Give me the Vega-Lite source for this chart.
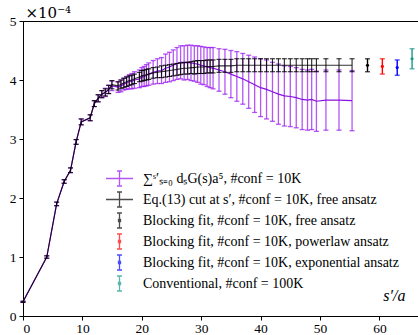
{
  "$schema": "https://vega.github.io/schema/vega-lite/v6.json",
  "width": 395,
  "height": 295,
  "autosize": "none",
  "padding": {"left": 23, "top": 21, "right": 0, "bottom": 19},
  "background": "white",
  "config": {
    "view": {"stroke": "black", "strokeWidth": 1},
    "axis": {
      "grid": false, "domainColor": "black", "tickColor": "black", "tickSize": 4,
      "labelFont": "Liberation Serif", "labelFontSize": 13.5, "labelColor": "black",
      "titleFont": "Liberation Serif", "titleColor": "black", "titleFontWeight": "normal"
    },
    "legend": {"labelFont": "Liberation Serif", "labelFontSize": 14, "labelColor": "black", "labelLimit": 400}
  },
  "datasets": {
    "sum": [
      {"x":0,"y":0.24,"e":0.01},{"x":4,"y":1.0,"e":0.02},{"x":5.66,"y":1.9,"e":0.03},{"x":6.93,"y":2.28,"e":0.03},
      {"x":8,"y":2.47,"e":0.04},{"x":8.94,"y":2.95,"e":0.04},{"x":9.8,"y":3.29,"e":0.05},{"x":11.31,"y":3.36,"e":0.05},
      {"x":12,"y":3.6,"e":0.05},{"x":12.65,"y":3.69,"e":0.06},{"x":13.27,"y":3.76,"e":0.06},{"x":13.86,"y":3.79,"e":0.07},
      {"x":14.42,"y":3.84,"e":0.07},{"x":14.97,"y":3.9,"e":0.08},{"x":16,"y":3.88,"e":0.09},{"x":16.49,"y":3.9,"e":0.1},
      {"x":16.97,"y":3.93,"e":0.1},{"x":17.44,"y":3.95,"e":0.11},{"x":17.89,"y":3.97,"e":0.12},{"x":18.33,"y":3.98,"e":0.13},
      {"x":18.76,"y":4.0,"e":0.14},{"x":19.6,"y":4.02,"e":0.15},{"x":20,"y":4.05,"e":0.16},{"x":20.4,"y":4.06,"e":0.17},
      {"x":20.78,"y":4.08,"e":0.18},{"x":21.17,"y":4.1,"e":0.19},{"x":21.91,"y":4.13,"e":0.2},{"x":22.63,"y":4.15,"e":0.21},
      {"x":23.32,"y":4.16,"e":0.22},{"x":24,"y":4.2,"e":0.24},{"x":24.66,"y":4.22,"e":0.25},{"x":25.3,"y":4.25,"e":0.26},
      {"x":25.92,"y":4.28,"e":0.27},{"x":26.53,"y":4.3,"e":0.28},{"x":27.13,"y":4.29,"e":0.29},{"x":27.71,"y":4.3,"e":0.29},
      {"x":28.28,"y":4.29,"e":0.3},{"x":28.84,"y":4.28,"e":0.3},{"x":29.39,"y":4.27,"e":0.31},{"x":29.93,"y":4.25,"e":0.32},
      {"x":30.46,"y":4.24,"e":0.32},{"x":31,"y":4.22,"e":0.33},{"x":31.5,"y":4.21,"e":0.34},{"x":32,"y":4.2,"e":0.35},
      {"x":33,"y":4.17,"e":0.36},{"x":34,"y":4.14,"e":0.38},{"x":35,"y":4.1,"e":0.4},{"x":36,"y":4.06,"e":0.42},
      {"x":37,"y":4.02,"e":0.43},{"x":38,"y":3.97,"e":0.45},{"x":39,"y":3.92,"e":0.47},{"x":40,"y":3.87,"e":0.49},
      {"x":41,"y":3.84,"e":0.5},{"x":42,"y":3.8,"e":0.5},{"x":43,"y":3.76,"e":0.51},{"x":44,"y":3.73,"e":0.51},
      {"x":45,"y":3.72,"e":0.51},{"x":46,"y":3.7,"e":0.51},{"x":47,"y":3.67,"e":0.51},{"x":47.9,"y":3.66,"e":0.51},
      {"x":48.6,"y":3.67,"e":0.51},{"x":49.4,"y":3.64,"e":0.51},{"x":51,"y":3.66,"e":0.51},{"x":53.2,"y":3.66,"e":0.51},
      {"x":55.4,"y":3.65,"e":0.51}
    ],
    "eq13": [
      {"x":0,"y":0.24,"e":0.01},{"x":4,"y":1.0,"e":0.02},{"x":5.66,"y":1.9,"e":0.03},{"x":6.93,"y":2.28,"e":0.03},
      {"x":8,"y":2.47,"e":0.04},{"x":8.94,"y":2.95,"e":0.04},{"x":9.8,"y":3.29,"e":0.05},{"x":11.31,"y":3.36,"e":0.05},
      {"x":12,"y":3.6,"e":0.05},{"x":12.65,"y":3.69,"e":0.06},{"x":13.27,"y":3.76,"e":0.06},{"x":13.86,"y":3.79,"e":0.06},
      {"x":14.42,"y":3.84,"e":0.07},{"x":14.97,"y":3.92,"e":0.07},{"x":16,"y":3.9,"e":0.07},{"x":16.49,"y":3.93,"e":0.07},
      {"x":16.97,"y":3.95,"e":0.08},{"x":17.44,"y":3.97,"e":0.08},{"x":17.89,"y":3.99,"e":0.08},{"x":18.33,"y":4.0,"e":0.08},
      {"x":18.76,"y":4.02,"e":0.08},{"x":19.6,"y":4.05,"e":0.08},{"x":20,"y":4.07,"e":0.09},{"x":20.4,"y":4.08,"e":0.09},
      {"x":20.78,"y":4.09,"e":0.09},{"x":21.17,"y":4.1,"e":0.09},{"x":21.91,"y":4.12,"e":0.09},{"x":22.63,"y":4.13,"e":0.09},
      {"x":23.32,"y":4.14,"e":0.1},{"x":24,"y":4.15,"e":0.1},{"x":24.66,"y":4.16,"e":0.1},{"x":25.3,"y":4.17,"e":0.1},
      {"x":25.92,"y":4.18,"e":0.1},{"x":26.53,"y":4.19,"e":0.1},{"x":27.13,"y":4.2,"e":0.1},{"x":27.71,"y":4.2,"e":0.1},
      {"x":28.28,"y":4.21,"e":0.1},{"x":28.84,"y":4.21,"e":0.11},{"x":29.39,"y":4.22,"e":0.11},{"x":29.93,"y":4.22,"e":0.11},
      {"x":30.46,"y":4.22,"e":0.11},{"x":31,"y":4.23,"e":0.11},{"x":31.5,"y":4.23,"e":0.11},{"x":32,"y":4.23,"e":0.11},
      {"x":33,"y":4.24,"e":0.11},{"x":34,"y":4.24,"e":0.11},{"x":35,"y":4.24,"e":0.11},{"x":36,"y":4.25,"e":0.11},
      {"x":37,"y":4.25,"e":0.11},{"x":38,"y":4.25,"e":0.11},{"x":39,"y":4.25,"e":0.11},{"x":40,"y":4.25,"e":0.11},
      {"x":41,"y":4.25,"e":0.11},{"x":42,"y":4.25,"e":0.11},{"x":43,"y":4.25,"e":0.11},{"x":44,"y":4.25,"e":0.11},
      {"x":45,"y":4.25,"e":0.11},{"x":46,"y":4.25,"e":0.11},{"x":47,"y":4.25,"e":0.11},{"x":47.9,"y":4.25,"e":0.11},
      {"x":48.6,"y":4.25,"e":0.11},{"x":49.4,"y":4.25,"e":0.11},{"x":51,"y":4.25,"e":0.11},{"x":53.2,"y":4.25,"e":0.11},
      {"x":55.4,"y":4.25,"e":0.11}
    ],
    "single": [
      {"series":"Blocking fit, #conf = 10K, free ansatz","x":58.0,"y":4.25,"e":0.11},
      {"series":"Blocking fit, #conf = 10K, powerlaw ansatz","x":60.5,"y":4.23,"e":0.13},
      {"series":"Blocking fit, #conf = 10K, exponential ansatz","x":63.0,"y":4.21,"e":0.13},
      {"series":"Conventional, #conf = 100K","x":65.5,"y":4.36,"e":0.17}
    ]
  },
  "encoding": {
    "x": {"field": "x", "type": "quantitative",
      "scale": {"domain": [0, 66.5], "nice": false, "zero": false},
      "axis": {"values": [0,10,20,30,40,50,60], "title": "s′/a", "titleFontStyle": "italic", "titleFontSize": 16,
        "titleAlign": "right", "titleBaseline": "middle", "titleX": 382, "titleY": -21, "labelPadding": 1}},
    "y": {"field": "y", "type": "quantitative",
      "scale": {"domain": [0, 5], "nice": false},
      "axis": {"values": [0,1,2,3,4,5], "title": "×10⁻⁴", "titleAngle": 0, "titleFontSize": 15,
        "titleFont": "DejaVu Serif", "titleAlign": "left", "titleBaseline": "alphabetic", "titleX": 2, "titleY": -4, "labelPadding": 3}}
  },
  "layer": [
    {
      "data": {"name": "sum"},
      "mark": {"type": "errorbar", "color": "#9410f0", "opacity": 0.7, "thickness": 1.3, "ticks": {"size": 5, "thickness": 1.3}},
      "encoding": {"yError": {"field": "e"}}
    },
    {
      "data": {"name": "sum"},
      "mark": {"type": "line", "color": "#8a10e0", "strokeWidth": 1.2},
      "encoding": {}
    },
    {
      "data": {"name": "eq13"},
      "mark": {"type": "errorbar", "color": "black", "opacity": 0.85, "thickness": 1.1, "ticks": {"size": 5, "thickness": 1.1}},
      "encoding": {"yError": {"field": "e"}}
    },
    {
      "data": {"name": "eq13"},
      "mark": {"type": "line", "color": "black", "opacity": 0.8, "strokeWidth": 1.1},
      "encoding": {}
    },
    {
      "data": {"name": "single"},
      "mark": {"type": "errorbar", "thickness": 1.4, "ticks": {"size": 5, "thickness": 1.4}},
      "encoding": {"yError": {"field": "e"},
        "color": {"field": "series", "type": "nominal"}}
    },
    {
      "data": {"name": "single"},
      "mark": {"type": "point", "filled": true, "size": 10, "opacity": 1},
      "encoding": {"color": {"field": "series", "type": "nominal"}}
    },
    {
      "data": {"name": "single"},
      "mark": {"type": "point", "filled": false, "opacity": 0},
      "encoding": {
        "color": {"field": "series", "type": "nominal",
          "scale": {"domain": ["∑ˢ′ₛ₌₀ dₛG(s)a⁵, #conf = 10K", "Eq.(13) cut at s′, #conf = 10K, free ansatz", "Blocking fit, #conf = 10K, free ansatz", "Blocking fit, #conf = 10K, powerlaw ansatz", "Blocking fit, #conf = 10K, exponential ansatz", "Conventional, #conf = 100K"],
            "range": ["#9410f0", "black", "black", "red", "blue", "#17998c"]},
          "legend": {"orient": "none", "legendX": 89.5, "legendY": 150.5, "title": null, "padding": 0,
            "symbolSize": 100, "symbolStrokeWidth": 1.3, "symbolOpacity": 1, "rowPadding": -1, "labelOffset": 16.5, "labelLimit": 400}},
        "shape": {"field": "series", "type": "nominal",
          "scale": {"domain": ["∑ˢ′ₛ₌₀ dₛG(s)a⁵, #conf = 10K", "Eq.(13) cut at s′, #conf = 10K, free ansatz", "Blocking fit, #conf = 10K, free ansatz", "Blocking fit, #conf = 10K, powerlaw ansatz", "Blocking fit, #conf = 10K, exponential ansatz", "Conventional, #conf = 100K"],
            "range": ["M-2.7,0H2.7M0,-1.5V1.5M-0.5,-1.5H0.5M-0.5,1.5H0.5", "M-2.7,0H2.7M0,-1.5V1.5M-0.5,-1.5H0.5M-0.5,1.5H0.5", "M0,-1.5V1.5M-0.5,-1.5H0.5M-0.5,1.5H0.5M-0.2,-0.2H0.2V0.2H-0.2Z", "M0,-1.5V1.5M-0.5,-1.5H0.5M-0.5,1.5H0.5M-0.2,-0.2H0.2V0.2H-0.2Z", "M0,-1.5V1.5M-0.5,-1.5H0.5M-0.5,1.5H0.5M-0.2,-0.2H0.2V0.2H-0.2Z", "M0,-1.5V1.5M-0.5,-1.5H0.5M-0.5,1.5H0.5M-0.2,-0.2H0.2V0.2H-0.2Z"]},
          "legend": {"orient": "none", "legendX": 89.5, "legendY": 150.5, "title": null, "padding": 0,
            "symbolSize": 100, "symbolStrokeWidth": 1.3, "symbolOpacity": 1, "rowPadding": -1, "labelOffset": 16.5, "labelLimit": 400}}
      }
    }
  ]
}
